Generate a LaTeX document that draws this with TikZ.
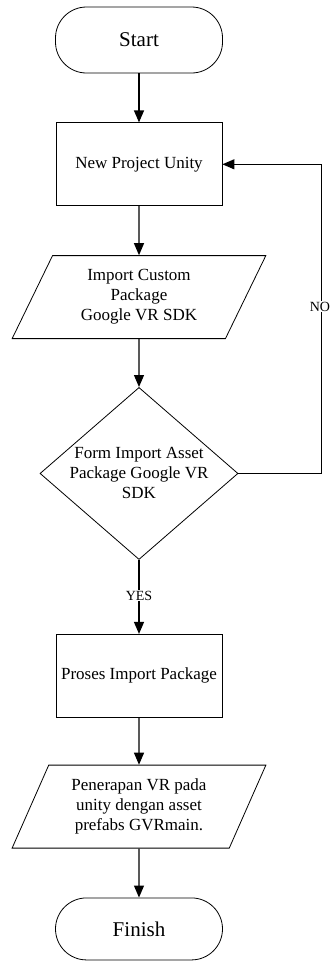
\documentclass[tikz,border=0pt]{standalone}
\usepackage{fontspec}
\setmainfont{Liberation Serif}
\usetikzlibrary{positioning, arrows.meta, shapes.geometric}

\begin{document}
\begin{tikzpicture}[
        x=1pt, y=1pt,
        >=latex,
        % vertical gap between the blocks of the flow
        node distance=49pt,
        font=\fontsize{17}{20}\selectfont
    ]
        \useasboundingbox (0,0) rectangle (330,-962);

        % Define node styles
        \tikzstyle{term}=[
            draw, line width=0.8pt,
            rectangle, rounded corners=31pt,
            minimum width=167pt, minimum height=66pt,
            font=\fontsize{21}{24}\selectfont
        ]
        \tikzstyle{proc}=[
            draw, line width=0.8pt,
            minimum width=166pt, minimum height=83pt,
            align=center
        ]
        \tikzstyle{io}=[
            draw, line width=0.8pt,
            trapezium, trapezium left angle=63.7, trapezium right angle=116.3,
            trapezium stretches=true,
            minimum width=254pt, minimum height=83pt,
            inner sep=0pt, align=center
        ]
        \tikzstyle{decide}=[
            draw, line width=0.8pt,
            diamond, aspect=1.15, inner sep=0pt,
            minimum width=198pt, minimum height=172pt,
            align=center
        ]
        \tikzstyle{flowarrow}=[-{Triangle[length=12pt,width=10pt]}, line width=1.2pt]
        \tikzstyle{answer}=[fill=white, inner sep=1pt, font=\fontsize{14}{16}\selectfont]

        % --- Main column ---
        \node[term] (start) at (139,-40) {Start};
        \node[proc, below=of start] (newproj) {New Project Unity};
        \node[io, below=of newproj] (import) {Import Custom\\Package\\Google VR SDK};
        \node[decide, below=48pt of import] (form) {Form Import Asset\\Package Google VR\\SDK};
        \node[proc, below=74pt of form] (proses) {Proses Import Package};
        \node[io, below=47pt of proses] (terap) {Penerapan VR pada\\unity dengan asset\\prefabs GVRmain.};
        \node[term, minimum height=62pt, below=49pt of terap] (finish) {Finish};

        % --- Main Flow Connections ---
        \draw[flowarrow] (start) -- (newproj);
        \draw[flowarrow] (newproj) -- (import);
        \draw[flowarrow] (import) -- (form);
        \draw[flowarrow] (form) -- node[answer, pos=0.48] {YES} (proses);
        \draw[flowarrow] (proses) -- (terap);
        \draw[flowarrow] (terap) -- (finish);

        % --- Loop back when the import fails ---
        \coordinate[right=83pt of form.east] (noturn);
        \draw[flowarrow] (form.east) -- (noturn) |- node[answer, pos=0.27, xshift=-1.5pt] {NO} (newproj.east);

    \end{tikzpicture}
\end{document}
